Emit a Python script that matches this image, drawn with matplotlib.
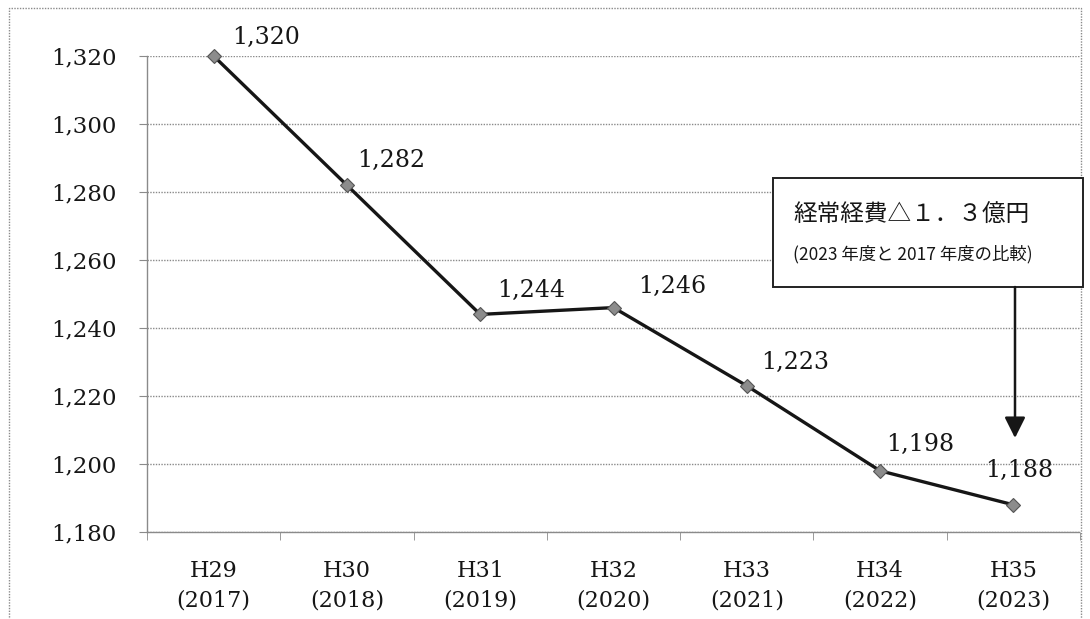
import matplotlib
matplotlib.use("Agg")
import matplotlib.pyplot as plt
from matplotlib.patches import Rectangle, FancyArrowPatch
from matplotlib.ticker import FuncFormatter

# Ordinary expenses by fiscal year (million yen)
years_jp = ["H29", "H30", "H31", "H32", "H33", "H34", "H35"]
years_ad = ["(2017)", "(2018)", "(2019)", "(2020)", "(2021)", "(2022)", "(2023)"]
expenses = [1320, 1282, 1244, 1246, 1223, 1198, 1188]
y_ticks = [1180, 1200, 1220, 1240, 1260, 1280, 1300, 1320]

# label offsets from each marker, in points
label_dx = [38, 32, 37, 42, 35, 29, 4]
label_dy = [13, 18, 17, 15, 17, 19, 25]

box_title = "経常経費△１．３億円"
box_note = "(2023 年度と 2017 年度の比較)"

W, H = 1090, 619
fig = plt.figure(figsize=(W / 100, H / 100), dpi=100)
fig.patch.set_facecolor("white")

serif = "DejaVu Serif"
cjk = ["Noto Sans CJK JP", "DejaVu Sans"]
grid_col = "#8a8a8a"
ink = "#161616"

# outer dotted frame
fig.patches.append(Rectangle((9 / W, -0.05), (1081 - 9) / W, 1 - 8 / H + 0.05,
                             transform=fig.transFigure, fill=False,
                             edgecolor=grid_col, linewidth=1.0, linestyle=(0, (1, 1))))

ax = fig.add_axes([147 / W, 1 - 532 / H, (1080 - 147) / W, (532 - 56) / H])
x = list(range(len(expenses)))

ax.set_xlim(-0.5, len(expenses) - 0.5)
ax.set_ylim(y_ticks[0], y_ticks[-1])
ax.set_yticks(y_ticks)
ax.yaxis.set_major_formatter(FuncFormatter(lambda v, p: f"{int(v):,}"))

ax.set_xticks(x)
ax.set_xticklabels([f"{a}\n{b}" for a, b in zip(years_jp, years_ad)],
                   fontfamily=serif, fontsize=16, linespacing=1.45, color=ink)
ax.set_xticks([i - 0.5 for i in range(len(expenses) + 1)], minor=True)
ax.tick_params(axis="x", which="major", length=0, pad=20)
ax.tick_params(axis="x", which="minor", length=6, color=grid_col, direction="out")
ax.tick_params(axis="y", length=6, color=grid_col, pad=16, labelsize=16.5,
               labelcolor=ink)
for lab in ax.get_yticklabels():
    lab.set_fontfamily(serif)

ax.grid(axis="y", color=grid_col, linestyle=(0, (1, 1)), linewidth=1.0)
ax.set_axisbelow(True)
for side in ("top", "right"):
    ax.spines[side].set_visible(False)
for side in ("left", "bottom"):
    ax.spines[side].set_color(grid_col)
    ax.spines[side].set_linestyle((0, (1, 1)))
    ax.spines[side].set_linewidth(1.0)

ax.plot(x, expenses, color=ink, linewidth=2.4, zorder=3, clip_on=False)
ax.plot(x, expenses, linestyle="none", marker="D", markersize=7,
        markerfacecolor="#8c8c8c", markeredgecolor="#555555",
        markeredgewidth=0.8, zorder=4, clip_on=False)

for xi, v, dx, dy in zip(x, expenses, label_dx, label_dy):
    ax.annotate(f"{v:,}", (xi, v), xytext=(dx, dy), textcoords="offset points",
                ha="center", va="center", fontfamily=serif, fontsize=17,
                color=ink, annotation_clip=False)

# callout box with arrow to the last year
bx0, by0, bx1, by1 = 773, 178, 1083, 287
fig.patches.append(Rectangle((bx0 / W, 1 - by1 / H), (bx1 - bx0) / W, (by1 - by0) / H,
                             transform=fig.transFigure, facecolor="white",
                             edgecolor="#222222", linewidth=1.4, zorder=5))
fig.text(793 / W, 1 - 215 / H, box_title, fontfamily=cjk, fontsize=17,
         ha="left", va="center", color=ink, zorder=6)
fig.text(793 / W, 1 - 254 / H, box_note, fontfamily=cjk, fontsize=12.5,
         ha="left", va="center", color=ink, zorder=6)
fig.patches.append(FancyArrowPatch((1015 / W, 1 - by1 / H), (1015 / W, 1 - 438 / H),
                                   transform=fig.transFigure,
                                   arrowstyle="-|>,head_length=0.9,head_width=0.45",
                                   mutation_scale=14, color=ink,
                                   linewidth=1.8, shrinkA=0, shrinkB=0, zorder=6))

fig.savefig("out.png", dpi=100, facecolor="white")
